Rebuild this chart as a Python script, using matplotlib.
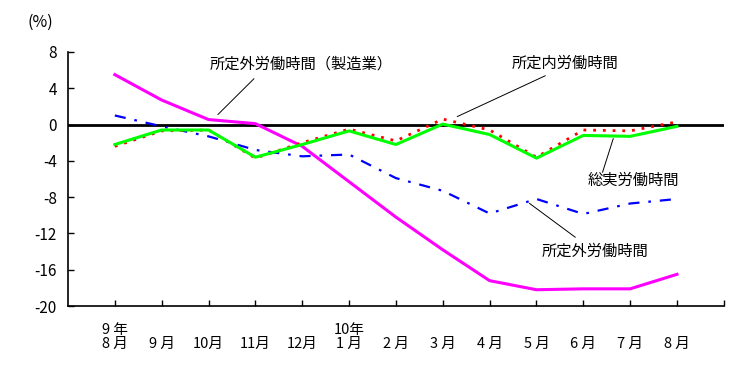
import numpy as np
import matplotlib
matplotlib.use('Agg')
import matplotlib.pyplot as plt

plt.rcParams['font.family'] = ['Noto Sans CJK JP', 'DejaVu Sans']
plt.rcParams['axes.unicode_minus'] = False

months = ['9 年\n8 月', '\n9 月', '\n10月', '\n11月', '\n12月', '10年\n1 月', '\n2 月',
          '\n3 月', '\n4 月', '\n5 月', '\n6 月', '\n7 月', '\n8 月']

# 前年同月比 (%)
total_hours = [-2.2, -0.6, -0.6, -3.6, -2.2, -0.7, -2.2, 0.05, -1.1, -3.7, -1.2, -1.3, -0.2]
scheduled_hours = [-2.4, -0.7, -0.6, -3.7, -2.0, -0.5, -1.8, 0.6, -0.6, -3.6, -0.6, -0.7, 0.3]
overtime_hours = [1.0, -0.2, -1.3, -2.8, -3.5, -3.3, -5.9, -7.3, -9.8, -8.2, -9.85, -8.7, -8.2]
overtime_mfg = [5.5, 2.7, 0.55, 0.1, -2.4, -6.3, -10.2, -13.8, -17.2, -18.2, -18.1, -18.1, -16.5]

yticks = [8, 4, 0, -4, -8, -12, -16, -20]

x = np.arange(len(months))

fig = plt.figure(figsize=(7.47, 3.71), dpi=100)
ax = fig.add_axes([0.091, 0.175, 0.878, 0.685])

ax.axhline(0, color='black', linewidth=2.0, zorder=1)
ax.plot(x, overtime_mfg, color='#ff00ff', linewidth=2.2, zorder=3)
ax.plot(x, overtime_hours, color='#0000ff', linewidth=1.6, linestyle=(0, (5, 4, 1.2, 4)), zorder=3)
ax.plot(x, scheduled_hours, color='#ff0000', linewidth=2.0, linestyle=(0, (1, 2.5)), zorder=3)
ax.plot(x, total_hours, color='#00ff00', linewidth=2.2, zorder=4)

ax.set_xlim(-1, 13)
ax.set_ylim(-20, 8)
ax.set_xticks(list(x) + [13])
ax.set_xticklabels(months + [''], fontsize=10.5, linespacing=1.05)
ax.set_yticks(yticks)
ax.set_yticklabels([str(v) for v in yticks], fontsize=11)
ax.tick_params(axis='both', direction='in', length=4, width=1, colors='black')
ax.tick_params(axis='x', pad=12)
ax.tick_params(axis='y', pad=8)
for s in ['top', 'right']:
    ax.spines[s].set_visible(False)
for s in ['left', 'bottom']:
    ax.spines[s].set_linewidth(1.2)

fig.text(0.054, 0.94, '(%)', fontsize=11.5, ha='center', va='center')

arrow = dict(arrowstyle='-', color='black', linewidth=0.7, shrinkA=0, shrinkB=0)
ax.text(3.97, 6.7, '所定外労働時間（製造業）', fontsize=11, ha='center', va='center')
ax.annotate('', xy=(2.2, 1.1), xytext=(2.97, 5.05), arrowprops=arrow)
ax.text(9.62, 6.8, '所定内労働時間', fontsize=11, ha='center', va='center')
ax.annotate('', xy=(7.31, 0.88), xytext=(9.19, 5.38), arrowprops=arrow)
ax.text(11.06, -6.15, '総実労働時間', fontsize=11, ha='center', va='center')
ax.annotate('', xy=(10.64, -1.54), xytext=(10.41, -5.27), arrowprops=arrow)
ax.text(10.26, -13.96, '所定外労働時間', fontsize=11, ha='center', va='center')
ax.annotate('', xy=(8.85, -8.68), xytext=(9.83, -12.42), arrowprops=arrow)

fig.savefig('out.png', dpi=100)
